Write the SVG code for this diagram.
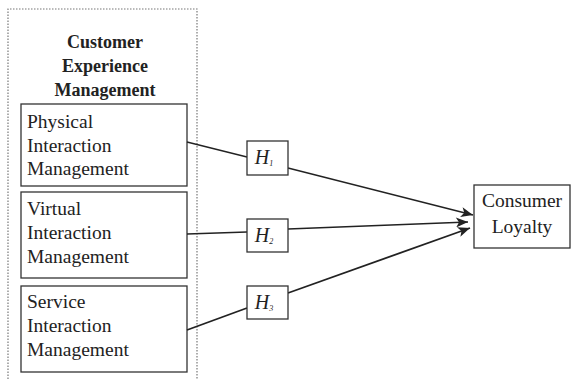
<svg xmlns="http://www.w3.org/2000/svg" width="576" height="380" viewBox="0 0 576 380">
<style>
text{font-family:"Liberation Serif","Times New Roman",serif;fill:#222}
.title{font-weight:bold;font-size:18px;text-anchor:middle}
.lbl{font-size:19.5px}
.h{font-style:italic;font-size:20px;text-anchor:middle}
.sub{font-size:8px}
.box{fill:#fff;stroke:#333;stroke-width:1.3}
.edge{stroke:#222;stroke-width:1.3;fill:none}
</style>
<defs>
<marker id="arr" viewBox="0 0 12 10" markerWidth="13" markerHeight="10" refX="12" refY="5" orient="auto" markerUnits="userSpaceOnUse">
<path d="M0,0 L12,5 L0,10 L3,5 Z" fill="#222"/>
</marker>
</defs>
<rect width="576" height="380" fill="#fff"/>
<g id="cem">
<path d="M8,385 V9 H197 V385" fill="none" stroke="#777" stroke-width="1.2" stroke-dasharray="1.5,1.5"/>
<text class="title" x="105" y="48">Customer</text>
<text class="title" x="105" y="72">Experience</text>
<text class="title" x="105" y="96">Management</text>
</g>
<g id="physical">
<rect class="box" x="21" y="104" width="166" height="82"/>
<text class="lbl" x="27" y="128">Physical</text>
<text class="lbl" x="27" y="152">Interaction</text>
<text class="lbl" x="27" y="175">Management</text>
</g>
<g id="virtual">
<rect class="box" x="21" y="192" width="166" height="86"/>
<text class="lbl" x="27" y="215">Virtual</text>
<text class="lbl" x="27" y="239">Interaction</text>
<text class="lbl" x="27" y="263">Management</text>
</g>
<g id="service">
<rect class="box" x="21" y="286" width="166" height="86"/>
<text class="lbl" x="27" y="308">Service</text>
<text class="lbl" x="27" y="332">Interaction</text>
<text class="lbl" x="27" y="356">Management</text>
</g>
<g id="connectors">
<line class="edge" x1="187" y1="142" x2="247" y2="157"/>
<line class="edge" x1="288" y1="168" x2="473" y2="215" marker-end="url(#arr)"/>
<line class="edge" x1="187" y1="234" x2="247" y2="232"/>
<line class="edge" x1="288" y1="229" x2="468" y2="222" marker-end="url(#arr)"/>
<line class="edge" x1="187" y1="330" x2="247" y2="308" style="stroke-width:1.8"/>
<line class="edge" x1="288" y1="293" x2="470" y2="228" marker-end="url(#arr)" style="stroke-width:1.8"/>
</g>
<g id="h1">
<rect class="box" x="247" y="141" width="41" height="34"/>
<text class="h" x="264" y="164">H<tspan class="sub" dy="2">1</tspan></text>
</g>
<g id="h2">
<rect class="box" x="247" y="219" width="41" height="33"/>
<text class="h" x="264" y="242">H<tspan class="sub" dy="2">2</tspan></text>
</g>
<g id="h3">
<rect class="box" x="247" y="286" width="41" height="33"/>
<text class="h" x="264" y="309">H<tspan class="sub" dy="2">3</tspan></text>
</g>
<g id="loyalty">
<rect class="box" x="474" y="185" width="96" height="63"/>
<text class="lbl" x="522" y="207" text-anchor="middle">Consumer</text>
<text class="lbl" x="522" y="233" text-anchor="middle">Loyalty</text>
</g>
</svg>
